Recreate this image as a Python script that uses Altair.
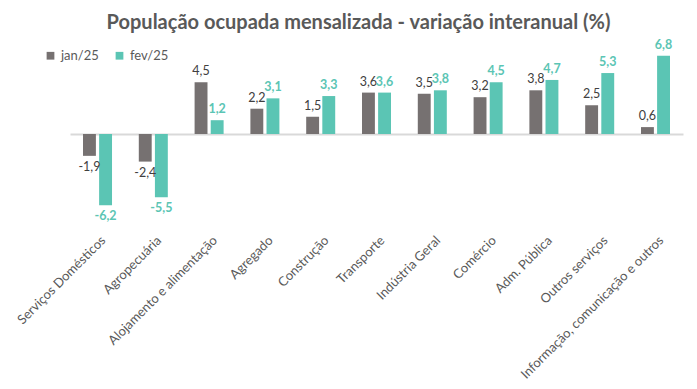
import altair as alt
import pandas as pd

categories = [
    "Serviços Domésticos",
    "Agropecuária",
    "Alojamento e alimentação",
    "Agregado",
    "Construção",
    "Transporte",
    "Indústria Geral",
    "Comércio",
    "Adm. Pública",
    "Outros serviços",
    "Informação, comunicação e outros",
]
series = ["jan/25", "fev/25"]
jan = [-1.9, -2.4, 4.5, 2.2, 1.5, 3.6, 3.5, 3.2, 3.8, 2.5, 0.6]
fev = [-6.2, -5.5, 1.2, 3.1, 3.3, 3.6, 3.8, 4.5, 4.7, 5.3, 6.8]

GRAY = "#767171"
TEAL = "#5BC5B4"
FONT = "Lato"

rows = []
for s, vals in zip(series, [jan, fev]):
    for c, v in zip(categories, vals):
        rows.append({"cat": c, "series": s, "value": v,
                     "label": f"{v:.1f}".replace(".", ",")})
df = pd.DataFrame(rows)

x_enc = alt.X(
    "cat:N", sort=categories,
    scale=alt.Scale(paddingInner=0.48, paddingOuter=0.233),
    axis=alt.Axis(title=None, labelAngle=-45, labelAlign="right",
                  labelBaseline="middle", labelPadding=12, labelOffset=6,
                  domain=False, ticks=False, labelLimit=400,
                  labelFont=FONT, labelFontSize=13, labelColor="#595959"),
)
xo_enc = alt.XOffset("series:N", sort=series,
                     scale=alt.Scale(paddingInner=0.2, paddingOuter=0))
y_enc = alt.Y(
    "value:Q", scale=alt.Scale(domain=[-8, 8], nice=False),
    axis=alt.Axis(values=[0], grid=True, gridColor="#D9D9D9", gridWidth=2,
                  labels=False, ticks=False, domain=False, title=None),
)

base = alt.Chart(df).encode(x=x_enc, xOffset=xo_enc, y=y_enc)

bars = base.mark_bar().encode(
    color=alt.Color(
        "series:N", sort=series,
        scale=alt.Scale(domain=series, range=[GRAY, TEAL]),
        legend=alt.Legend(
            title=None, orient="none", legendX=-26, legendY=7,
            direction="horizontal", symbolType="square", symbolSize=60,
            symbolStrokeWidth=0, labelFont=FONT, labelFontSize=13,
            labelColor="#595959", columnPadding=14, padding=0,
        ),
    )
)


def text_layer(s, positive, color, weight):
    cond = "datum.value >= 0" if positive else "datum.value < 0"
    return base.transform_filter(
        f"datum.series == '{s}' && {cond}"
    ).mark_text(
        font=FONT, fontSize=12.5, fontWeight=weight, color=color,
        baseline="bottom" if positive else "top",
        dy=-4 if positive else 5,
    ).encode(text="label:N")


texts = [
    text_layer("jan/25", True, "#404040", "normal"),
    text_layer("jan/25", False, "#404040", "normal"),
    text_layer("fev/25", True, TEAL, "bold"),
    text_layer("fev/25", False, TEAL, "bold"),
]

chart = alt.layer(bars, *texts).properties(
    width=613, height=184,
    autosize=alt.AutoSizeParams(type="none"),
    padding={"left": 62, "top": 34, "right": 6, "bottom": 155},
    title=alt.TitleParams(
        "População ocupada mensalizada - variação interanual (%)",
        font=FONT, fontSize=20, fontWeight="bold", color="#595959",
        anchor="middle", dx=-18, dy=2, offset=8,
    ),
).configure_view(stroke=None)

chart.save("out.html", embed_options={"renderer": "svg", "actions": False})
